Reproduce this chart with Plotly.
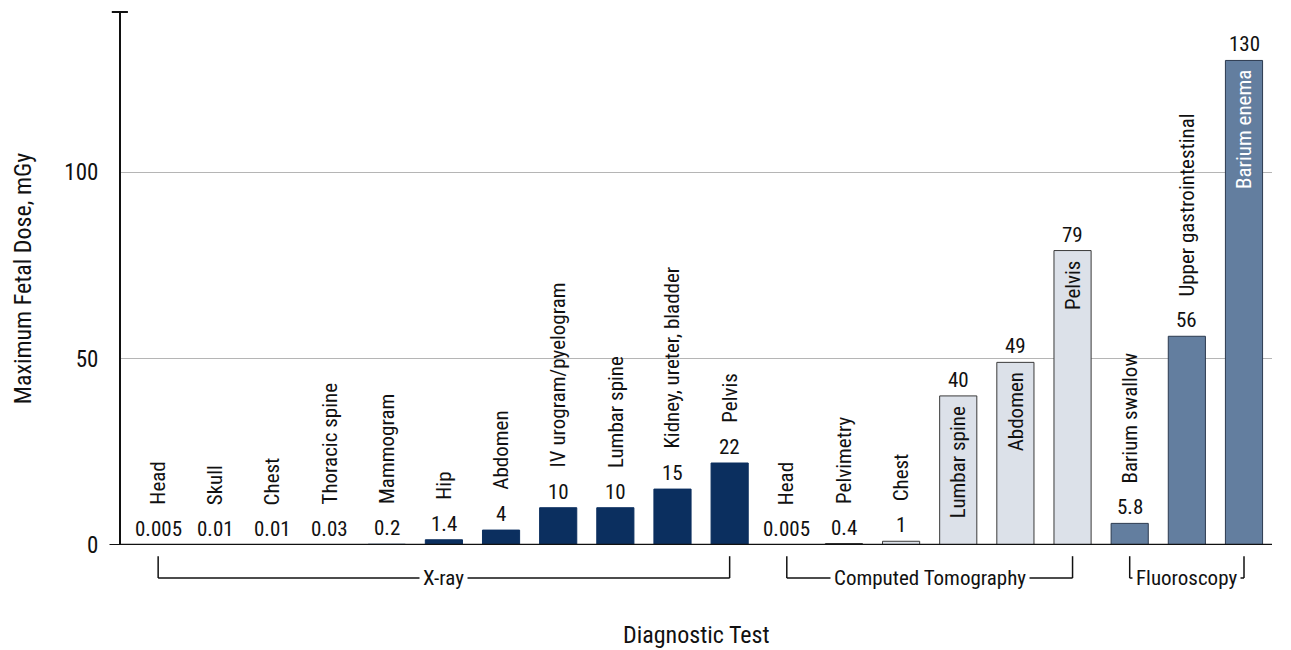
import plotly.graph_objects as go

# ---- data ----
xray_tests = ["Head", "Skull", "Chest", "Thoracic spine", "Mammogram", "Hip", "Abdomen",
              "IV urogram/pyelogram", "Lumbar spine", "Kidney, ureter, bladder", "Pelvis"]
xray_doses = [0.005, 0.01, 0.01, 0.03, 0.2, 1.4, 4, 10, 10, 15, 22]
xray_labels = ["0.005", "0.01", "0.01", "0.03", "0.2", "1.4", "4", "10", "10", "15", "22"]

ct_tests = ["Head", "Pelvimetry", "Chest", "Lumbar spine", "Abdomen", "Pelvis"]
ct_doses = [0.005, 0.4, 1, 40, 49, 79]
ct_labels = ["0.005", "0.4", "1", "40", "49", "79"]

fluoro_tests = ["Barium swallow", "Upper gastrointestinal", "Barium enema"]
fluoro_doses = [5.8, 56, 130]
fluoro_labels = ["5.8", "56", "130"]

group_names = ["X-ray", "Computed Tomography", "Fluoroscopy"]
y_ticks = [0, 50, 100]

# names written inside their bars (style choice)
inside_ct = {"Lumbar spine", "Abdomen", "Pelvis"}
inside_fluoro = {"Barium enema"}

FONT = ("Liberation Sans Narrow, Arial Narrow, Roboto Condensed, Open Sans Condensed, "
        "Liberation Sans, Arial, sans-serif")

groups = [
    dict(name=group_names[0], tests=xray_tests, doses=xray_doses, labels=xray_labels,
         color="#0b2f5f", line="#0b2f5f", inside=set(), intext="#111111"),
    dict(name=group_names[1], tests=ct_tests, doses=ct_doses, labels=ct_labels,
         color="#dce1e9", line="#3a3a3a", inside=inside_ct, intext="#111111"),
    dict(name=group_names[2], tests=fluoro_tests, doses=fluoro_doses, labels=fluoro_labels,
         color="#637e9f", line="#2b3a4f", inside=inside_fluoro, intext="#ffffff"),
]

fig = go.Figure()
annotations = []
shapes = []
start = 0
spans = []
for g in groups:
    n = len(g["tests"])
    xs = list(range(start, start + n))
    spans.append((xs[0], xs[-1]))
    fig.add_trace(go.Bar(
        x=xs, y=g["doses"], width=0.65,
        marker=dict(color=g["color"], line=dict(color=g["line"], width=1)),
        hoverinfo="skip", showlegend=False,
    ))
    for x, v, lab, name in zip(xs, g["doses"], g["labels"], g["tests"]):
        annotations.append(dict(x=x, y=v, xref="x", yref="y", text=lab, showarrow=False,
                                yanchor="bottom", yshift=2,
                                font=dict(family=FONT, size=21, color="#111111")))
        if name in g["inside"]:
            annotations.append(dict(x=x, y=v, xref="x", yref="y", text=name, showarrow=False,
                                    textangle=-90, yanchor="top", yshift=-8,
                                    font=dict(family=FONT, size=21, color=g["intext"])))
        else:
            annotations.append(dict(x=x, y=v, xref="x", yref="y", text=name, showarrow=False,
                                    textangle=-90, yanchor="bottom", yshift=38,
                                    font=dict(family=FONT, size=21, color="#111111")))
    start += n

# group brackets under the axis
y_top, y_bot = -0.021, -0.062
for (a, b), name in zip(spans, group_names):
    for xx in (a, b):
        shapes.append(dict(type="line", xref="x", yref="paper", x0=xx, x1=xx, y0=y_top, y1=y_bot,
                           line=dict(color="#111111", width=1.5)))
    shapes.append(dict(type="line", xref="x", yref="paper", x0=a, x1=b, y0=y_bot, y1=y_bot,
                       line=dict(color="#111111", width=1.5)))
    annotations.append(dict(x=(a + b) / 2, y=y_bot, xref="x", yref="paper", text=name,
                            showarrow=False, yanchor="middle", bgcolor="white", borderpad=3,
                            font=dict(family=FONT, size=21, color="#111111")))

# axis extras: top tick and left stub at zero
shapes.append(dict(type="line", xref="paper", yref="paper", x0=-0.008, x1=0.006, y0=1, y1=1,
                   line=dict(color="#111111", width=2)))
shapes.append(dict(type="line", xref="paper", yref="y", x0=-0.01, x1=0, y0=0, y1=0,
                   line=dict(color="#111111", width=2)))

annotations.append(dict(x=0.5, y=-0.168, xref="paper", yref="paper", text="Diagnostic Test",
                        showarrow=False, yanchor="middle",
                        font=dict(family=FONT, size=24, color="#111111")))

# page body has an 8px margin, so the figure is sized/offset to compensate
fig.update_layout(
    width=1283, height=642,
    margin=dict(l=113, r=19, t=4, b=105),
    plot_bgcolor="white", paper_bgcolor="white",
    xaxis=dict(range=[-0.65, 19.49], showticklabels=False, showgrid=False, zeroline=False,
               showline=False, ticks=""),
    yaxis=dict(range=[0, 143], tickvals=y_ticks, ticktext=[str(t) for t in y_ticks],
               showgrid=True, gridcolor="#b5b5b5", gridwidth=1, zeroline=False,
               showline=True, linecolor="#111111", linewidth=2, ticks="",
               ticklabelstandoff=16,
               tickfont=dict(family=FONT, size=23, color="#111111"),
               title=dict(text="Maximum Fetal Dose, mGy", standoff=26,
                          font=dict(family=FONT, size=24, color="#111111"))),
    annotations=annotations,
    shapes=shapes,
)
# x-axis baseline
fig.add_shape(type="line", xref="paper", yref="y", x0=0, x1=1, y0=0, y1=0,
              line=dict(color="#111111", width=2.5))

fig.write_html("out.html")
